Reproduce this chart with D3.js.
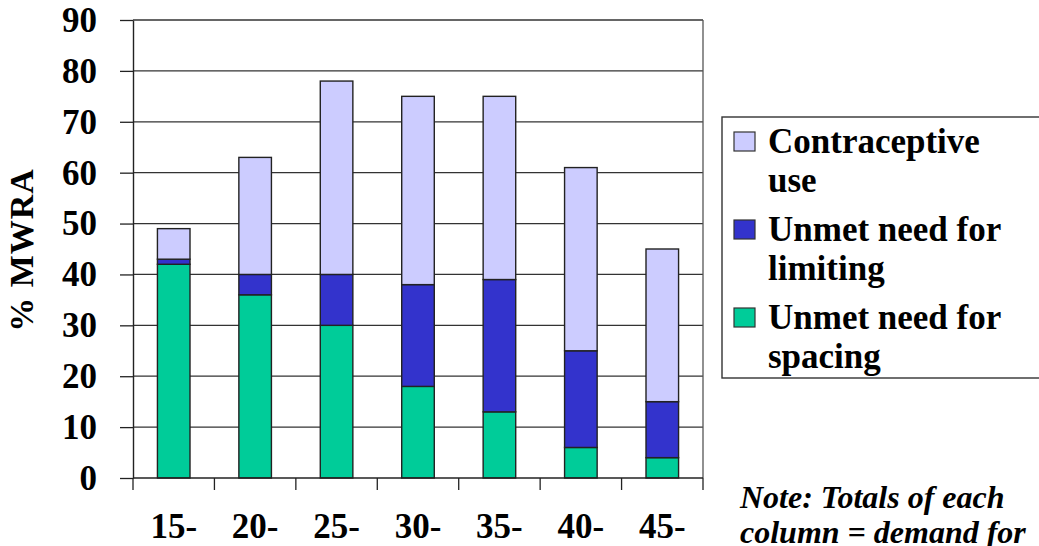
<!DOCTYPE html>
<html>
<head>
<meta charset="utf-8">
<script src="https://cdn.jsdelivr.net/npm/d3@7"></script>
<style>
  html, body { margin: 0; padding: 0; background: #fff; }
  svg { display: block; }
</style>
</head>
<body>
<svg id="chart" width="1039" height="546"></svg>
<script>
// Age groups of married women of reproductive age
const ageGroups = ["15-", "20-", "25-", "30-", "35-", "40-", "45-"];

// Percent of MWRA by component, stacked bottom to top
const unmetSpacing  = [42, 36, 30, 18, 13, 6, 4];
const unmetLimiting = [1, 4, 10, 20, 26, 19, 11];
const contraceptive = [6, 23, 38, 37, 36, 36, 30];

const yTicks = [0, 10, 20, 30, 40, 50, 60, 70, 80, 90];

const seriesColors = ["#00CC99", "#3333CC", "#CCCCFF"];

const legendItems = [
  { lines: ["Contraceptive", "use"], color: "#CCCCFF" },
  { lines: ["Unmet need for", "limiting"], color: "#3333CC" },
  { lines: ["Unmet need for", "spacing"], color: "#00CC99" }
];

const noteLines = ["Note: Totals of each", "column = demand for"];

const FONT = "'Liberation Serif'";

const svg = d3.select("#chart");
const plot = { left: 133, right: 703, top: 20, bottom: 478 };

const x = d3.scaleBand().domain(ageGroups).range([plot.left, plot.right]).paddingInner(0.6).paddingOuter(0.3);
const xBand = d3.scaleBand().domain(ageGroups).range([plot.left, plot.right]);
const y = d3.scaleLinear().domain([0, 90]).range([plot.bottom, plot.top]);

// Horizontal gridlines
svg.append("g")
  .selectAll("line")
  .data(yTicks.filter(d => d > 0))
  .join("line")
  .attr("x1", plot.left).attr("x2", plot.right)
  .attr("y1", d => y(d)).attr("y2", d => y(d))
  .attr("stroke", "#333").attr("stroke-width", 1.3);

// Right border of the plot area
svg.append("line")
  .attr("x1", plot.right).attr("x2", plot.right)
  .attr("y1", plot.top).attr("y2", plot.bottom)
  .attr("stroke", "#555").attr("stroke-width", 1.3);

// Stacked bars
const rows = ageGroups.map((g, i) => ({
  group: g,
  spacing: unmetSpacing[i],
  limiting: unmetLimiting[i],
  contraceptive: contraceptive[i]
}));
const stack = d3.stack().keys(["spacing", "limiting", "contraceptive"]);
const layers = stack(rows);

svg.append("g")
  .selectAll("g")
  .data(layers)
  .join("g")
  .attr("fill", (d, i) => seriesColors[i])
  .selectAll("rect")
  .data(d => d)
  .join("rect")
  .attr("x", d => x(d.data.group))
  .attr("width", x.bandwidth())
  .attr("y", d => y(d[1]))
  .attr("height", d => y(d[0]) - y(d[1]))
  .attr("stroke", "#222")
  .attr("stroke-width", 1.4);

// Y axis (labels drawn separately below)
const yAxis = svg.append("g")
  .attr("transform", `translate(${plot.left},0)`)
  .call(d3.axisLeft(y).tickValues(yTicks).tickSize(13).tickFormat("").tickSizeOuter(0));
yAxis.select(".domain").attr("stroke", "#222").attr("stroke-width", 1.4);
yAxis.selectAll(".tick line").attr("stroke", "#222").attr("stroke-width", 1.3);

svg.append("g")
  .selectAll("text")
  .data(yTicks)
  .join("text")
  .attr("x", 97)
  .attr("y", d => y(d))
  .attr("dy", "0.34em")
  .attr("text-anchor", "end")
  .style("font-family", FONT)
  .style("font-weight", "bold")
  .style("font-size", "35px")
  .text(d => d);

// X axis: boundary ticks between categories
const boundaries = ageGroups.map(g => xBand(g)).concat([plot.right]);
svg.append("line")
  .attr("x1", plot.left).attr("x2", plot.right)
  .attr("y1", plot.bottom).attr("y2", plot.bottom)
  .attr("stroke", "#222").attr("stroke-width", 1.4);
svg.append("g")
  .selectAll("line")
  .data(boundaries)
  .join("line")
  .attr("x1", d => d).attr("x2", d => d)
  .attr("y1", plot.bottom).attr("y2", plot.bottom + 12)
  .attr("stroke", "#222").attr("stroke-width", 1.3);

svg.append("g")
  .selectAll("text")
  .data(ageGroups)
  .join("text")
  .attr("x", d => xBand(d) + xBand.bandwidth() / 2)
  .attr("y", 538)
  .attr("text-anchor", "middle")
  .style("font-family", FONT)
  .style("font-weight", "bold")
  .style("font-size", "35px")
  .text(d => d);

// Y axis title
svg.append("text")
  .attr("transform", "translate(33,250) rotate(-90)")
  .attr("text-anchor", "middle")
  .style("font-family", FONT)
  .style("font-weight", "bold")
  .style("font-size", "34px")
  .style("letter-spacing", "1px")
  .text("% MWRA");

// Legend
const legend = svg.append("g");
legend.append("rect")
  .attr("x", 722).attr("y", 117)
  .attr("width", 330).attr("height", 261)
  .attr("fill", "#fff")
  .attr("stroke", "#333").attr("stroke-width", 1.4);

const itemPitch = 88, linePitch = 39, firstBaseline = 153;
legendItems.forEach((item, i) => {
  const base = firstBaseline + i * itemPitch;
  legend.append("rect")
    .attr("x", 734).attr("y", base - 21)
    .attr("width", 21).attr("height", 19)
    .attr("fill", item.color)
    .attr("stroke", "#333").attr("stroke-width", 1.2);
  item.lines.forEach((line, j) => {
    legend.append("text")
      .attr("x", 768).attr("y", base + j * linePitch)
      .style("font-family", FONT)
      .style("font-weight", "bold")
      .style("font-size", "35px")
      .text(line);
  });
});

// Note below the legend
svg.append("g")
  .selectAll("text")
  .data(noteLines)
  .join("text")
  .attr("x", 740)
  .attr("y", (d, i) => 508 + i * 35)
  .style("font-family", FONT)
  .style("font-weight", "bold")
  .style("font-style", "italic")
  .style("font-size", "32px")
  .text(d => d);
</script>
</body>
</html>
